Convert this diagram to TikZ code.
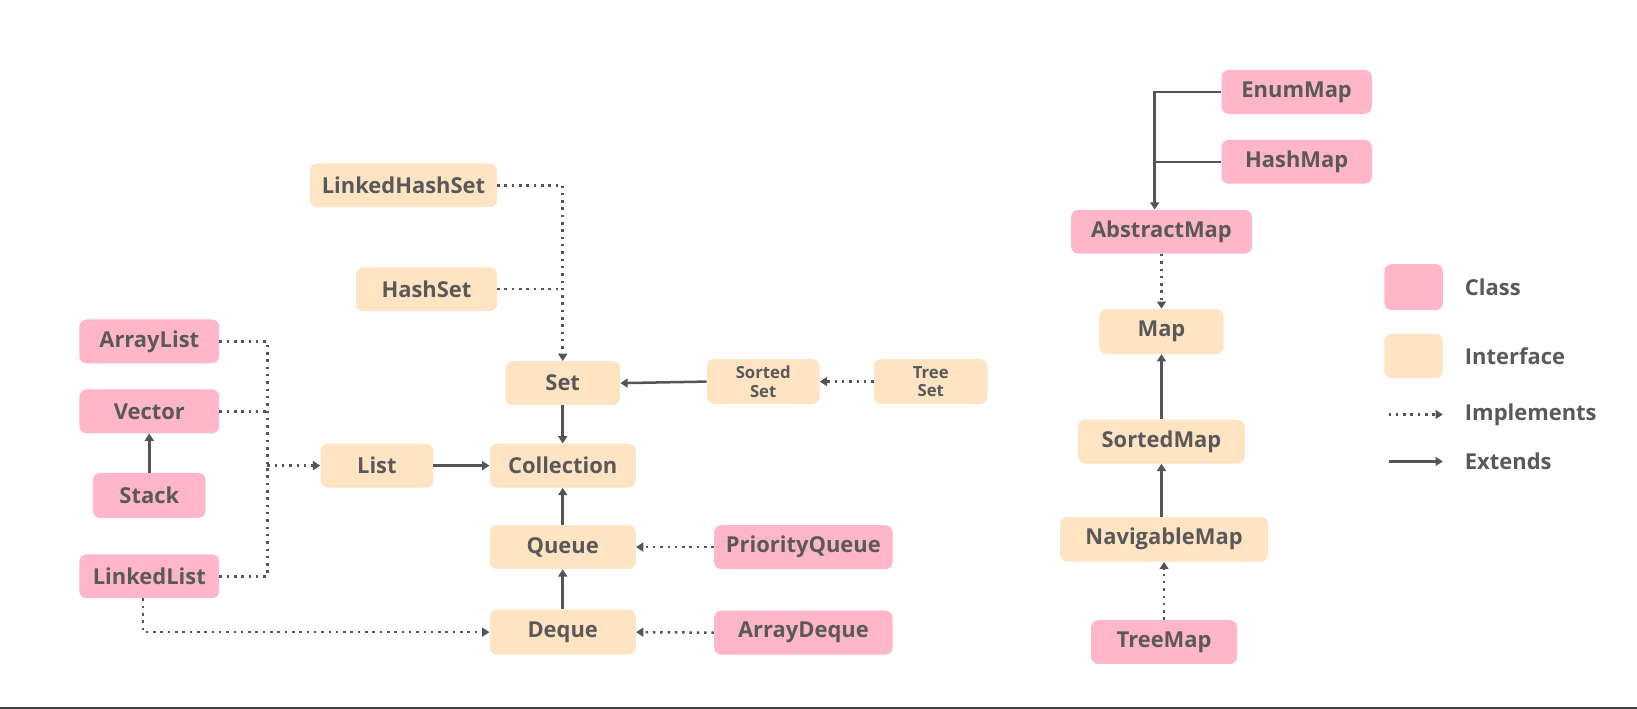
\documentclass[tikz,border=0pt]{standalone}
\usepackage{fontspec}
\setmainfont{Open Sans}
\usetikzlibrary{arrows.meta}
\definecolor{classfill}{HTML}{FFB6C8}
\definecolor{ifacefill}{HTML}{FFE4C4}
\definecolor{ink}{HTML}{595959}
\definecolor{wire}{HTML}{555555}
\begin{document}
\begin{tikzpicture}[x=1pt,y=-1pt,
  box/.style={rounded corners=7pt, minimum height=42pt, inner sep=0pt,
    text=ink, font=\fontsize{21}{24}\selectfont\bfseries},
  classbox/.style={box, fill=classfill},
  ifacebox/.style={box, fill=ifacefill},
  tip/.style={-{Triangle[length=7pt,width=8.5pt]}},
  solidwire/.style={draw=wire, line width=2.4pt},
  dotwire/.style={draw=wire, line width=2.4pt, dash pattern=on 2.4pt off 4.6pt},
  ext/.style={solidwire, tip},
  impl/.style={dotwire, tip},
  legtext/.style={anchor=west, inner sep=0pt, text=ink, font=\fontsize{21}{24}\selectfont\bfseries},
]
\useasboundingbox (0,0) rectangle (1568,679);
\fill[white] (0,0) rectangle (1568,679);
\fill[black!75] (0,677) rectangle (1568,679);

% Collection hierarchy
\node[ifacebox, minimum width=179pt] (lhs) at (386.5,177.5) {LinkedHashSet};
\node[ifacebox, minimum width=135pt] (hs) at (408.5,277) {HashSet};
\node[classbox, minimum width=134pt] (al) at (143,327) {ArrayList};
\node[classbox, minimum width=134pt] (vec) at (143,394) {Vector};
\node[classbox, minimum width=108pt, minimum height=43pt] (stk) at (143,474.5) {Stack};
\node[classbox, minimum width=134pt] (ll) at (143,552) {LinkedList};
\node[ifacebox, minimum width=108pt] (list) at (361,446) {List};
\node[ifacebox, minimum width=110pt] (set) at (539,367) {Set};
\node[ifacebox, minimum width=140pt] (col) at (539,446) {Collection};
\node[ifacebox, minimum width=140pt] (que) at (539,524) {Queue};
\node[ifacebox, minimum width=140pt, minimum height=43pt] (dq) at (539,605.5) {Deque};
\node[ifacebox, minimum width=108pt, minimum height=43pt, align=center,
  font=\fontsize{16}{18}\selectfont\bfseries] (sset) at (731,365.5) {Sorted\\Set};
\node[ifacebox, minimum width=109pt, minimum height=43pt, align=center,
  font=\fontsize{16}{18}\selectfont\bfseries] (tset) at (891.5,365.5) {Tree\\Set};
\node[classbox, minimum width=171pt] (pq) at (769.5,524) {PriorityQueue};
\node[classbox, minimum width=171pt] (ad) at (769.5,606) {ArrayDeque};

% Map hierarchy
\node[classbox, minimum width=144pt] (em) at (1242,88) {EnumMap};
\node[classbox, minimum width=144pt] (hm) at (1242,155) {HashMap};
\node[classbox, minimum width=173pt] (am) at (1112.5,222) {AbstractMap};
\node[ifacebox, minimum width=119pt, minimum height=43pt] (map) at (1112.5,317.5) {Map};
\node[ifacebox, minimum width=160pt] (smap) at (1112.5,423) {SortedMap};
\node[ifacebox, minimum width=199pt, minimum height=43pt] (nmap) at (1115,516.5) {NavigableMap};
\node[classbox, minimum width=140pt] (tmap) at (1115,615) {TreeMap};

% Legend
\node[classbox, minimum width=56pt, minimum height=44pt] (lgclass) at (1354,275) {};
\node[ifacebox, minimum width=56pt, minimum height=42pt] (lgiface) at (1354,341) {};
\node[legtext] (lgclasst) at (1403,275) {Class};
\node[legtext] (lgifacet) at (1403,341) {Interface};
\coordinate (lgi0) at (1330,397);
\coordinate (lgi1) at (1382,397);
\coordinate (lge0) at (1330,442);
\coordinate (lge1) at (1382,442);
\node[legtext] (lgimpl) at (1403,397) {Implements};
\node[legtext] (lgext) at (1403,442) {Extends};
\draw[impl] (lgi0) -- (lgi1);
\draw[ext] (lge0) -- (lge1);

% Set implementations
\draw[impl] (lhs.east) -- (lhs.east -| set.north) -- (set.north);
\draw[dotwire] (hs.east) -- (hs.east -| set.north);

% List implementations
\coordinate (lbus) at (256,446);
\draw[dotwire] (al.east) -| (lbus);
\draw[dotwire] (ll.east) -| (lbus);
\draw[dotwire] (vec.east) -- (vec.east -| lbus);
\draw[impl] (lbus) -- (list.west);
\draw[ext] (stk.north) -- (vec.south);
\draw[impl] ([xshift=-6pt]ll.south) |- (dq.west);

% Interfaces
\draw[ext] (list.east) -- (col.west);
\draw[ext] (set.south) -- (col.north);
\draw[ext] (que.north) -- (col.south);
\draw[ext] (dq.north) -- (que.south);
\draw[ext] (sset.west) -- (set.east);
\draw[impl] (tset.west) -- (sset.east);
\draw[impl] (pq.west) -- (que.east);
\draw[impl] (ad.west) -- (dq.east);

% Maps
\coordinate (mbus) at ([xshift=-6.5pt]am.north);
\draw[ext] (em.west) -| (mbus);
\draw[solidwire] (hm.west) -- (hm.west -| mbus);
\draw[impl] (am.south) -- (map.north);
\draw[ext] (smap.north) -- (map.south);
\draw[ext] (nmap.north -| smap.south) -- (smap.south);
\draw[impl] (tmap.north) -- (nmap.south);
\end{tikzpicture}
\end{document}
